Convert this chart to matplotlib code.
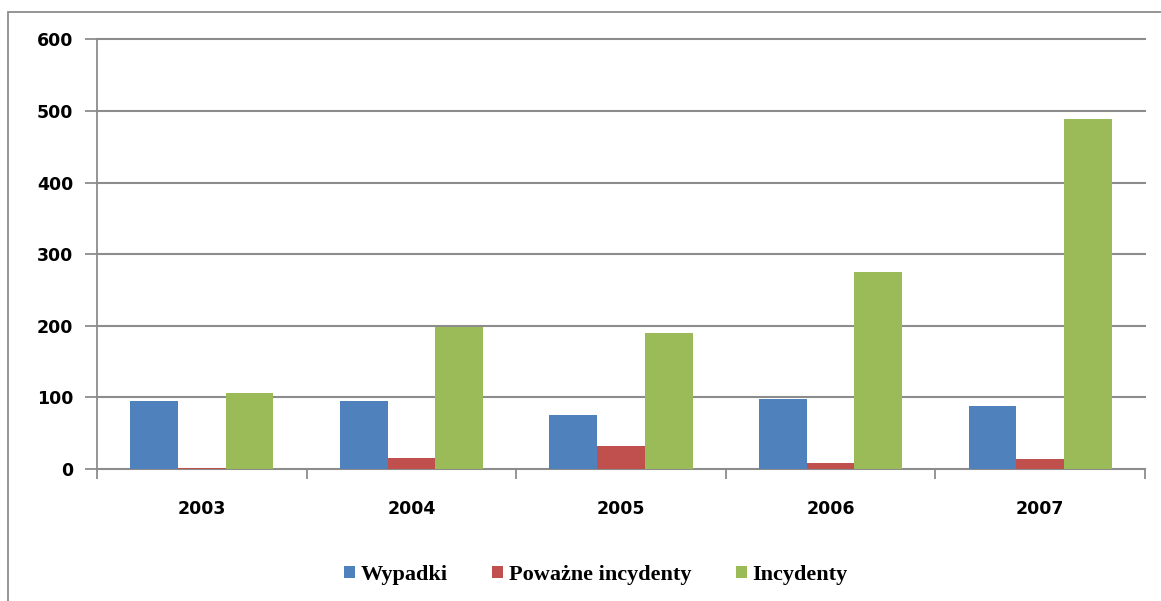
import matplotlib.pyplot as plt
import numpy as np
from matplotlib.patches import Rectangle

years = ["2003", "2004", "2005", "2006", "2007"]
wypadki = [95, 95, 75, 98, 88]
powazne = [1, 16, 32, 8, 14]
incydenty = [106, 198, 190, 275, 489]
series_labels = ["Wypadki", "Poważne incydenty", "Incydenty"]
colors = ["#4F81BD", "#C0504D", "#9BBB59"]
y_ticks = [0, 100, 200, 300, 400, 500, 600]

fig = plt.figure(figsize=(11.61, 6.01), dpi=100)
ax = fig.add_axes([97 / 1161, 1 - 469 / 601, (1145 - 97) / 1161, (469 - 39.5) / 601])

# outer chart frame, clipped on the right and bottom like the source image
fig.patches.append(Rectangle((8 / 1161, -0.1), 1.2, 1 - 12 / 601 + 0.1, transform=fig.transFigure,
                             fill=False, edgecolor="#8c8c8c", linewidth=1.3))

x = np.arange(len(years))
width = 0.228
for i, (vals, label, color) in enumerate(zip([wypadki, powazne, incydenty], series_labels, colors)):
    ax.bar(x + (i - 1) * width, vals, width=width, color=color, label=label, zorder=3)

ax.set_xlim(-0.5, len(years) - 0.5)
ax.set_ylim(0, 600)
ax.set_yticks(y_ticks)
ax.set_yticklabels([str(v) for v in y_ticks], fontsize=12.5, fontweight="bold")
ax.set_xticks(x)
ax.set_xticklabels(years, fontsize=12.5, fontweight="bold")
ax.set_xticks(np.arange(-0.5, len(years)), minor=True)
ax.tick_params(axis="x", which="major", length=0, pad=22)
ax.tick_params(axis="x", which="minor", length=7, color="#8c8c8c", width=1.3)
ax.tick_params(axis="y", length=9, color="#8c8c8c", width=1.3, pad=8)

ax.grid(axis="y", color="#8c8c8c", linewidth=1.5, zorder=0)
for line in ax.get_ygridlines():
    line.set_clip_on(False)
for side in ["top", "right"]:
    ax.spines[side].set_visible(False)
for side in ["left", "bottom"]:
    ax.spines[side].set_color("#8c8c8c")
    ax.spines[side].set_linewidth(1.3)

fig.legend(loc="center", bbox_to_anchor=(596 / 1161, 1 - 575 / 601), ncol=3, frameon=False,
           prop={"family": "Liberation Serif", "weight": "bold", "size": 16},
           handlelength=0.5, handleheight=0.5, handletextpad=0.25, columnspacing=2.0)

fig.savefig("out.png", dpi=100, facecolor="white")
